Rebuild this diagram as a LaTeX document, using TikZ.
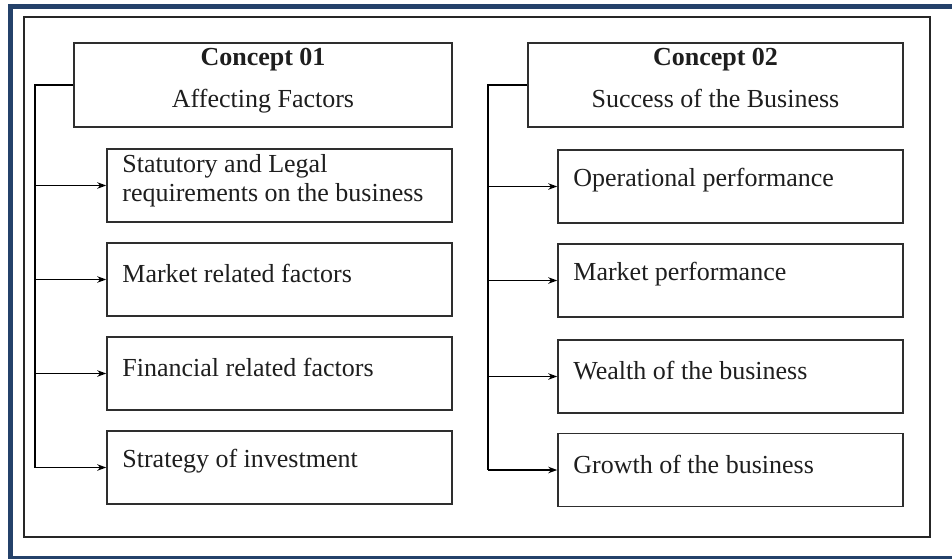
\documentclass[tikz,border=0pt]{standalone}
\usepackage{fontspec}
\setmainfont{Liberation Serif}
\usetikzlibrary{arrows.meta}
\definecolor{navy}{HTML}{24416A}
\definecolor{ink}{HTML}{1E1E1E}
\definecolor{boxline}{HTML}{2E2E2E}
\tikzset{
  txtfont/.style={font=\fontsize{26}{29}\selectfont, text=ink},
  headbox/.style={draw=boxline, line width=1.6pt, minimum height=84pt, inner sep=0pt},
  itembox/.style={draw=boxline, line width=1.6pt, minimum width=345pt, minimum height=73pt, inner sep=0pt},
  itemtext/.style={txtfont, anchor=west, align=left, inner sep=0pt, xshift=16pt, yshift=6pt},
  headtext/.style={txtfont, anchor=base, inner sep=0pt},
  link/.style={draw=black, line width=1.5pt},
  arrowlink/.style={link, -{Stealth[length=9pt, width=6.5pt]}},
}
\begin{document}
\begin{tikzpicture}[x=1pt, y=-1pt]
  \useasboundingbox (0,0) rectangle (952,559);
  \fill[white] (0,0) rectangle (952,559);

  % navy outer border
  \fill[navy] (8,4) rectangle (952,9);
  \fill[navy] (8,4) rectangle (13,559);
  \fill[navy] (8,556) rectangle (952,559);

  % inner frame
  \draw[black!85, line width=2pt] (24,17.5) rectangle (930,536.5);

  % ---- left column: affecting factors ----
  \node[headbox, minimum width=378pt] (c1) at (263,85) {};
  \node[headtext, yshift=19pt] (c1t) at (c1.center) {\textbf{Concept 01}};
  \node[headtext, yshift=-22pt] (c1s) at (c1.center) {Affecting Factors};

  \node[itembox] (a1) at (279.5,185.5) {};
  \node[itembox] (a2) at (279.5,279.5) {};
  \node[itembox] (a3) at (279.5,373.5) {};
  \node[itembox] (a4) at (279.5,467.5) {};
  \node[itemtext, yshift=-1pt] (a1t) at (a1.west) {Statutory and Legal\\requirements on the business};
  \node[itemtext] (a2t) at (a2.west) {Market related factors};
  \node[itemtext] (a3t) at (a3.west) {Financial related factors};
  \node[itemtext] (a4t) at (a4.west) {Strategy of investment};

  \coordinate (j1) at (35,85);
  \draw[link] (c1.west) -- (j1) -- (j1 |- a4.west);
  \foreach \k in {1,2,3,4}
    \draw[arrowlink] (j1 |- a\k.west) -- (a\k.west);

  % ---- right column: success of the business ----
  \node[headbox, minimum width=375pt] (c2) at (715.5,85) {};
  \node[headtext, yshift=19pt] (c2t) at (c2.center) {\textbf{Concept 02}};
  \node[headtext, yshift=-22pt] (c2s) at (c2.center) {Success of the Business};

  \node[itembox] (b1) at (730.5,186.5) {};
  \node[itembox] (b2) at (730.5,280.5) {};
  \node[itembox] (b3) at (730.5,376.5) {};
  \node[itembox] (b4) at (730.5,470) {};
  \node[itemtext] (b1t) at (b1.west) {Operational performance};
  \node[itemtext] (b2t) at (b2.west) {Market performance};
  \node[itemtext] (b3t) at (b3.west) {Wealth of the business};
  \node[itemtext] (b4t) at (b4.west) {Growth of the business};

  \coordinate (j2) at (488,85);
  \draw[link] (c2.west) -- (j2) -- (j2 |- b4.west);
  \foreach \k in {1,2,3,4}
    \draw[arrowlink] (j2 |- b\k.west) -- (b\k.west);
\end{tikzpicture}
\end{document}
